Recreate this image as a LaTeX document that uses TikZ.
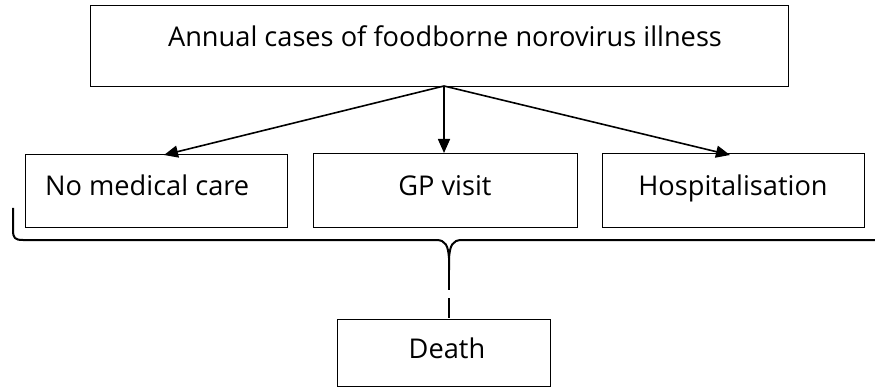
\documentclass[tikz,border=0pt]{standalone}
\usepackage{fontspec}
\setmainfont{Open Sans}
\usetikzlibrary{arrows.meta}
\begin{document}
\begin{tikzpicture}[x=1pt,y=-1pt,
  box/.style={draw, line width=1pt, inner sep=0pt, anchor=north west},
  lbl/.style={font=\fontsize{27.2}{31}\selectfont, inner sep=0pt, anchor=base},
  arr/.style={line width=1.6pt, -{Triangle[length=14pt,width=12pt]}},
  brace/.style={line width=2pt}]
\useasboundingbox (0,0) rectangle (875,390);
% boxes
\node[box, minimum width=698pt, minimum height=81pt] (top) at (90,5) {};
\node[box, minimum width=262pt, minimum height=73pt] (none) at (25,154) {};
\node[box, minimum width=264pt, minimum height=74pt] (gp) at (313,153) {};
\node[box, minimum width=262pt, minimum height=74pt] (hosp) at (602,153) {};
\node[box, minimum width=213pt, minimum height=67pt] (death) at (337,319) {};
% labels
\node[lbl] (ttop) at (445,47) {Annual cases of foodborne norovirus illness};
\node[lbl, anchor=base west] (tnone) at (45,196) {No medical care};
\node[lbl] (tgp) at (445,196) {GP visit};
\node[lbl] (thosp) at (733,196) {Hospitalisation};
\node[lbl] (tdeath) at (447,358) {Death};
% arrows from the top box
\coordinate (src) at (444,86);
\coordinate (tl) at (164,155);
\coordinate (tr) at (730,155);
\draw[arr] (src) -- (tl);
\draw[arr] (src) -- (gp.north -| src);
\draw[arr] (src) -- (tr);
% brace under the middle row
\coordinate (bl) at (13,208);
\coordinate (tip) at (449,270);
\coordinate (br) at (875,240);
\draw[brace] (bl) -- (13,230) .. controls (13,238) and (15,240) .. (23,240)
  -- (436,240) .. controls (446,240) and (448,246) .. (449,258) -- (tip);
\draw[brace] (br) -- (462,240) .. controls (452,240) and (450,246) .. (449,258);
% dashed link to the death box
\draw[line width=1.6pt, dash pattern=on 20pt off 8pt] (tip) -- (death.north -| tip);
\end{tikzpicture}
\end{document}
